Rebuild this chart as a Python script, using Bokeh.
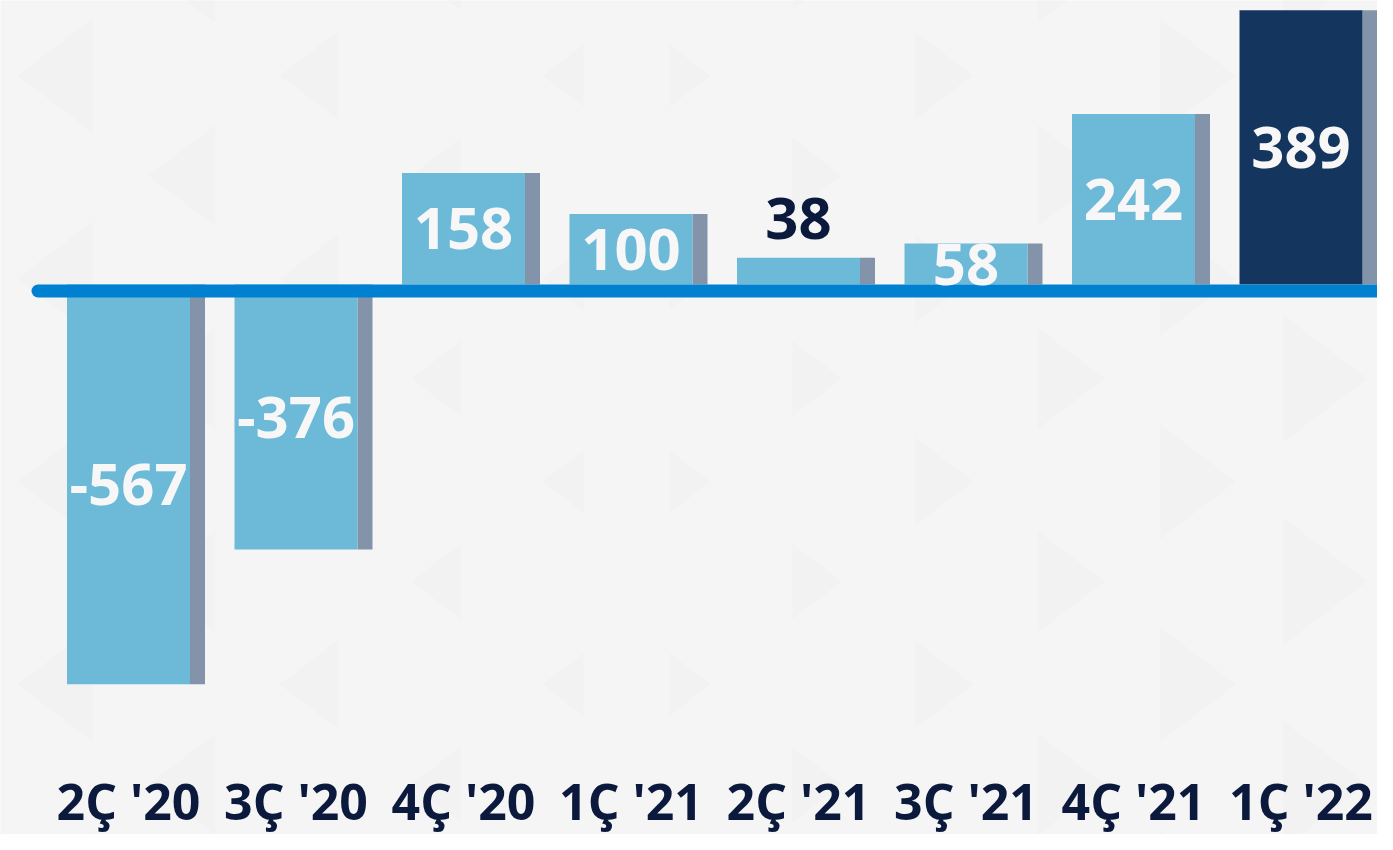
from bokeh.plotting import figure
from bokeh.models import Range1d, ColumnDataSource
from bokeh.embed import file_html
from bokeh.resources import INLINE
from bokeh.core.properties import value

# ---- data ----
categories = ["2Ç '20", "3Ç '20", "4Ç '20", "1Ç '21", "2Ç '21", "3Ç '21", "4Ç '21", "1Ç '22"]
values = [-567, -376, 158, 100, 38, 58, 242, 389]
value_labels = ["-567", "-376", "158", "100", "38", "58", "242", "389"]
bar_colors = ["#6cbad7"] * 7 + ["#14365e"]
label_colors = ["#f7f7f7"] * 4 + ["#0b1a3c"] + ["#f7f7f7"] * 3
label_outside = [False] * 4 + [True] + [False] * 3

# ---- layout (pixels) ----
W, H = 1377, 834
ZERO_PX = 284          # screen y of value 0
PX_PER_UNIT = 0.705
SLOT_PX = 167.5
FIRST_CENTER_PX = 128
BAR_PX = 123
SHADOW_PX = 15
LABEL_PX = 800

y_start = -(H - ZERO_PX) / PX_PER_UNIT
y_end = ZERO_PX / PX_PER_UNIT
x_start = -FIRST_CENTER_PX / SLOT_PX
x_end = (W - FIRST_CENTER_PX) / SLOT_PX


def px_x(px):
    return (px - FIRST_CENTER_PX) / SLOT_PX


def px_y(py):
    return (ZERO_PX - py) / PX_PER_UNIT


p = figure(width=W, height=H, output_backend="svg", toolbar_location=None,
           x_range=Range1d(x_start, x_end), y_range=Range1d(y_start, y_end),
           min_border=0, min_border_left=0, min_border_right=0,
           min_border_top=0, min_border_bottom=0)
p.background_fill_color = "#f5f5f5"
p.border_fill_color = "#f5f5f5"
p.outline_line_color = None
p.axis.visible = False
p.grid.visible = False

# ---- faint triangle background pattern ----
xs, ys = [], []
CENTER_PX = 626
for side in (-1, 1):
    for k in range(7):
        cx = CENTER_PX + side * (k + 0.5) * 127
        h = 62 + 13 * k
        w = 0.66 * h
        y0 = 481 if k % 2 == 0 else 378
        cys = [y0 + 203 * n for n in range(-4, 4)]
        for cy in cys:
            if side < 0:
                tx = [cx + w / 2, cx + w / 2, cx - w / 2]
            else:
                tx = [cx - w / 2, cx - w / 2, cx + w / 2]
            ty = [cy - h / 2, cy + h / 2, cy]
            xs.append([px_x(t) for t in tx])
            ys.append([px_y(t) for t in ty])
p.patches(xs, ys, fill_color="#f2f2f2", line_color=None)

# ---- bars ----
idx = list(range(len(categories)))
src = ColumnDataSource(dict(
    x=idx,
    xs=[i + (BAR_PX / 2 + SHADOW_PX / 2) / SLOT_PX for i in idx],
    top=values,
    color=bar_colors,
))
p.vbar(x="xs", top="top", bottom=0, width=SHADOW_PX / SLOT_PX, source=src,
       fill_color="#8394aa", line_color=None)
p.vbar(x="x", top="top", bottom=0, width=BAR_PX / SLOT_PX, source=src,
       fill_color="color", line_color=None)

# ---- zero line ----
x_left = -(BAR_PX / 2 + 29) / SLOT_PX
p.line(x=[x_left, x_end + 1], y=[-6.5 / PX_PER_UNIT] * 2, line_width=13,
       line_cap="round", line_color="#0080d0")

# ---- value labels ----
lab_y = [v + 39 / PX_PER_UNIT if o else v / 2 for v, o in zip(values, label_outside)]
lsrc = ColumnDataSource(dict(x=idx, y=lab_y, text=value_labels, color=label_colors))
p.text(x="x", y="y", text="text", source=lsrc, text_color="color",
       text_font=value("Open Sans"), text_font_style="bold",
       text_font_size="58px", text_align="center", text_baseline="middle")

# ---- category labels ----
csrc = ColumnDataSource(dict(x=idx, y=[px_y(LABEL_PX)] * len(idx), text=categories))
p.text(x="x", y="y", text="text", source=csrc, text_color="#0b1a3c",
       text_font=value("Open Sans"), text_font_style="bold",
       text_font_size="50px", text_align="center", text_baseline="middle")

open("out.html", "w").write(file_html(p, INLINE))
